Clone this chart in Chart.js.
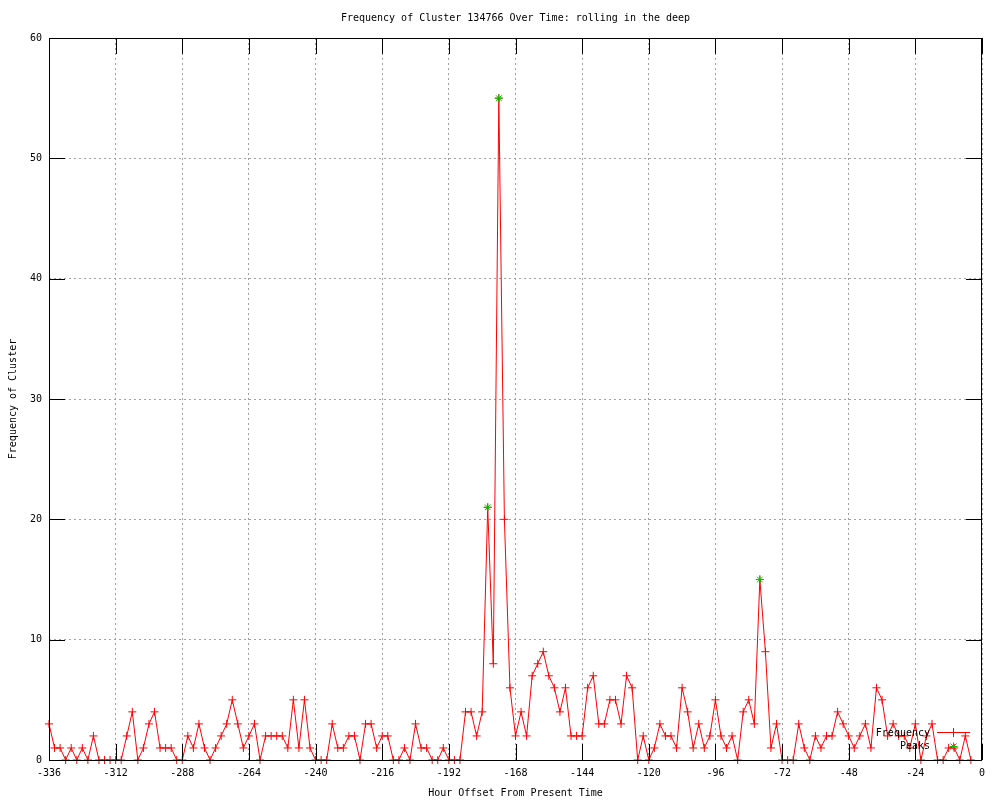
<!DOCTYPE html>
<html>
<head>
<meta charset="utf-8">
<title>Frequency of Cluster 134766</title>
<script src="https://cdn.jsdelivr.net/npm/chart.js@4.4.1/dist/chart.umd.min.js"></script>
<style>
  html, body { margin: 0; padding: 0; background: #fff; }
</style>
</head>
<body>
<canvas id="myChart" width="1000" height="800"></canvas>
<script>
// hour offsets of each sample (every 2 hours)
const hours = [
  -336, -334, -332, -330, -328, -326, -324, -322, -320, -318,
  -316, -314, -312, -310, -308, -306, -304, -302, -300, -298,
  -296, -294, -292, -290, -288, -286, -284, -282, -280, -278,
  -276, -274, -272, -270, -268, -266, -264, -262, -260, -258,
  -256, -254, -252, -250, -248, -246, -244, -242, -240, -238,
  -236, -234, -232, -230, -228, -226, -224, -222, -220, -218,
  -216, -214, -212, -210, -208, -206, -204, -202, -200, -198,
  -196, -194, -192, -190, -188, -186, -184, -182, -180, -178,
  -176, -174, -172, -170, -168, -166, -164, -162, -160, -158,
  -156, -154, -152, -150, -148, -146, -144, -142, -140, -138,
  -136, -134, -132, -130, -128, -126, -124, -122, -120, -118,
  -116, -114, -112, -110, -108, -106, -104, -102, -100, -98,
  -96, -94, -92, -90, -88, -86, -84, -82, -80, -78,
  -76, -74, -72, -70, -68, -66, -64, -62, -60, -58,
  -56, -54, -52, -50, -48, -46, -44, -42, -40, -38,
  -36, -34, -32, -30, -28, -26, -24, -22, -20, -18,
  -16, -14, -12, -10, -8, -6, -4,
];

const frequency = [
  3, 1, 1, 0, 1, 0, 1, 0, 2, 0,
  0, 0, 0, 0, 2, 4, 0, 1, 3, 4,
  1, 1, 1, 0, 0, 2, 1, 3, 1, 0,
  1, 2, 3, 5, 3, 1, 2, 3, 0, 2,
  2, 2, 2, 1, 5, 1, 5, 1, 0, 0,
  0, 3, 1, 1, 2, 2, 0, 3, 3, 1,
  2, 2, 0, 0, 1, 0, 3, 1, 1, 0,
  0, 1, 0, 0, 0, 4, 4, 2, 4, 21,
  8, 55, 20, 6, 2, 4, 2, 7, 8, 9,
  7, 6, 4, 6, 2, 2, 2, 6, 7, 3,
  3, 5, 5, 3, 7, 6, 0, 2, 0, 1,
  3, 2, 2, 1, 6, 4, 1, 3, 1, 2,
  5, 2, 1, 2, 0, 4, 5, 3, 15, 9,
  1, 3, 0, 0, 0, 3, 1, 0, 2, 1,
  2, 2, 4, 3, 2, 1, 2, 3, 1, 6,
  5, 2, 3, 2, 2, 1, 3, 0, 2, 3,
  0, 0, 1, 1, 0, 2, 0,
];

const peakHours = [-178, -174, -80];
const peakValues = [21, 55, 15];

const xTicks = [-336, -312, -288, -264, -240, -216, -192, -168, -144, -120, -96, -72, -48, -24, 0];
const yTicks = [0, 10, 20, 30, 40, 50, 60];

const RED = "#ff0000";
const GREEN = "#00c000";
const FONT = "'DejaVu Sans Mono', 'Liberation Mono', monospace";
const TICK = 16;

Chart.defaults.font.family = FONT;
Chart.defaults.font.size = 10;
Chart.defaults.color = "#000";

// gnuplot style frame: box border, inward mirrored ticks, title and key
const gnuFrame = {
  id: "gnuFrame",
  afterDatasetsDraw(chart) {
    const { ctx, chartArea: a, scales } = chart;
    const sx = scales.x;
    const sy = scales.y;
    ctx.save();
    ctx.strokeStyle = "#000";
    ctx.lineWidth = 1;
    ctx.beginPath();
    xTicks.forEach((v) => {
      const px = Math.round(sx.getPixelForValue(v)) + 0.5;
      ctx.moveTo(px, a.bottom);
      ctx.lineTo(px, a.bottom - TICK);
      ctx.moveTo(px, a.top);
      ctx.lineTo(px, a.top + TICK);
    });
    yTicks.forEach((v) => {
      const py = Math.round(sy.getPixelForValue(v)) + 0.5;
      ctx.moveTo(a.left, py);
      ctx.lineTo(a.left + TICK, py);
      ctx.moveTo(a.right, py);
      ctx.lineTo(a.right - TICK, py);
    });
    ctx.stroke();
    ctx.strokeRect(a.left + 0.5, a.top + 0.5, a.right - a.left - 1, a.bottom - a.top);

    // title
    ctx.fillStyle = "#000";
    ctx.font = "10px " + FONT;
    ctx.textAlign = "center";
    ctx.textBaseline = "middle";
    ctx.fillText("Frequency of Cluster 134766 Over Time: rolling in the deep", (a.left + a.right) / 2, 18);

    // key
    ctx.textAlign = "right";
    ctx.fillText("Frequency", 930, 733);
    ctx.fillText("Peaks", 930, 746);
    ctx.strokeStyle = RED;
    ctx.beginPath();
    ctx.moveTo(937, 732.5);
    ctx.lineTo(970, 732.5);
    ctx.moveTo(953.5, 728);
    ctx.lineTo(953.5, 737);
    ctx.stroke();
    ctx.strokeStyle = GREEN;
    ctx.beginPath();
    ctx.moveTo(949.5, 746.5);
    ctx.lineTo(957.5, 746.5);
    ctx.moveTo(953.5, 742.5);
    ctx.lineTo(953.5, 750.5);
    ctx.moveTo(950.5, 743.5);
    ctx.lineTo(956.5, 749.5);
    ctx.moveTo(956.5, 743.5);
    ctx.lineTo(950.5, 749.5);
    ctx.stroke();
    ctx.restore();
  },
};

const ctx = document.getElementById("myChart").getContext("2d");
const myChart = new Chart(ctx, {
  type: "line",
  data: {
    datasets: [
      {
        label: "Peaks",
        data: peakHours.map((h, i) => ({ x: h, y: peakValues[i] })),
        showLine: false,
        pointStyle: "star",
        pointRadius: 4,
        pointBorderWidth: 1,
        pointBorderColor: GREEN,
        pointBackgroundColor: GREEN,
        borderColor: GREEN,
        clip: false,
        order: 0,
      },
      {
        label: "Frequency",
        data: hours.map((h, i) => ({ x: h, y: frequency[i] })),
        borderColor: RED,
        borderWidth: 1,
        tension: 0,
        pointStyle: "cross",
        pointRadius: 4,
        pointBorderWidth: 1,
        pointBorderColor: RED,
        clip: false,
        order: 1,
      },
    ],
  },
  options: {
    responsive: false,
    animation: false,
    events: [],
    layout: { padding: { top: 38, right: 18, left: 0, bottom: 0 } },
    plugins: {
      legend: { display: false },
      title: { display: false },
      tooltip: { enabled: false },
    },
    scales: {
      x: {
        type: "linear",
        min: -336,
        max: 0,
        afterBuildTicks: (s) => {
          s.ticks = xTicks.map((v) => ({ value: v }));
        },
        afterFit: (s) => {
          s.height = 40;
        },
        ticks: {
          padding: 7,
          maxRotation: 0,
          autoSkip: false,
          callback: (v) => String(v),
        },
        grid: {
          color: "#a0a0a0",
          lineWidth: 1,
          drawTicks: false,
        },
        border: { display: false, dash: [2, 3] },
        title: {
          display: true,
          text: "Hour Offset From Present Time",
          font: { size: 10 },
          padding: { top: 0, bottom: 1 },
        },
      },
      y: {
        type: "linear",
        min: 0,
        max: 60,
        afterBuildTicks: (s) => {
          s.ticks = yTicks.map((v) => ({ value: v }));
        },
        afterFit: (s) => {
          s.width = 49;
        },
        ticks: {
          padding: 7,
          callback: (v) => String(v),
        },
        grid: {
          color: "#a0a0a0",
          lineWidth: 1,
          drawTicks: false,
        },
        border: { display: false, dash: [2, 3] },
        title: {
          display: true,
          text: "Frequency of Cluster",
          font: { size: 10 },
          padding: { top: 7, bottom: 0 },
        },
      },
    },
  },
  plugins: [gnuFrame],
});
</script>
</body>
</html>
